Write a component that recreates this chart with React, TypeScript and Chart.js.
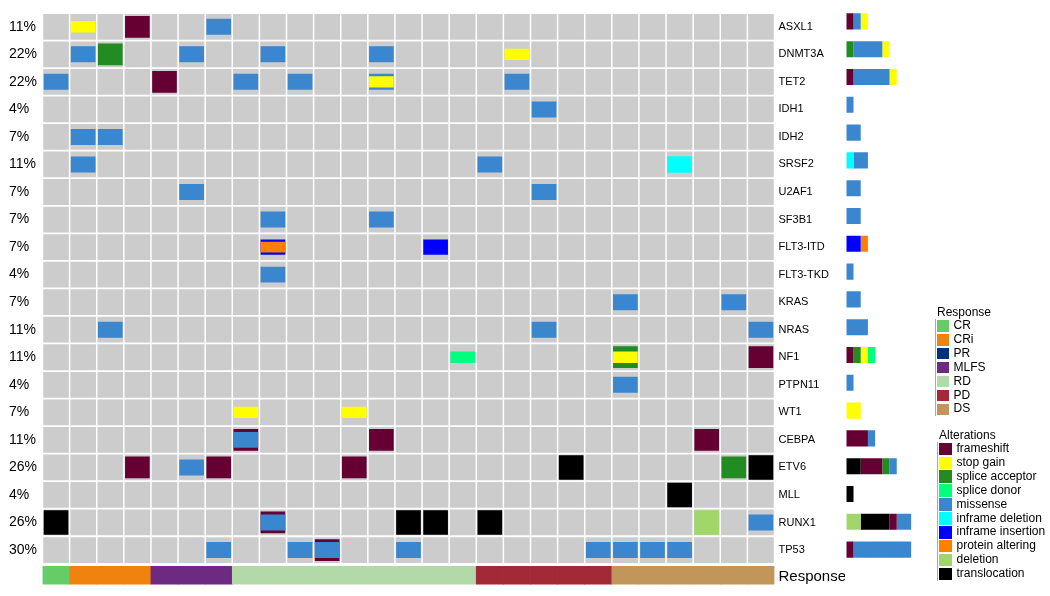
import React, { useEffect, useRef } from 'react';
import { Chart, registerables } from 'chart.js';

Chart.register(...registerables);

// ---------------- DATA ----------------
const SAMPLES = [
  'P01', 'P02', 'P03', 'P04', 'P05', 'P06', 'P07', 'P08', 'P09', 'P10',
  'P11', 'P12', 'P13', 'P14', 'P15', 'P16', 'P17', 'P18', 'P19', 'P20',
  'P21', 'P22', 'P23', 'P24', 'P25', 'P26', 'P27',
];

const GENES = [
  'ASXL1', 'DNMT3A', 'TET2', 'IDH1', 'IDH2', 'SRSF2', 'U2AF1', 'SF3B1', 'FLT3-ITD', 'FLT3-TKD',
  'KRAS', 'NRAS', 'NF1', 'PTPN11', 'WT1', 'CEBPA', 'ETV6', 'MLL', 'RUNX1', 'TP53',
];

const FREQUENCY = [
  '11%', '22%', '22%', '4%', '7%', '11%', '7%', '7%', '7%', '4%',
  '7%', '11%', '11%', '4%', '7%', '11%', '26%', '4%', '26%', '30%',
];

const RESPONSE = [
  'CR', 'CRi', 'CRi', 'CRi', 'MLFS', 'MLFS', 'MLFS',
  'RD', 'RD', 'RD', 'RD', 'RD', 'RD', 'RD', 'RD', 'RD',
  'PD', 'PD', 'PD', 'PD', 'PD',
  'DS', 'DS', 'DS', 'DS', 'DS', 'DS',
];

const RESPONSE_LEVELS = ['CR', 'CRi', 'PR', 'MLFS', 'RD', 'PD', 'DS'];

// Alterations in the grid: [gene, sample number]
const FRAMESHIFT: [string, number][] = [
  ['ASXL1', 4], ['TET2', 5], ['NF1', 27], ['CEBPA', 8], ['CEBPA', 13], ['CEBPA', 25],
  ['ETV6', 4], ['ETV6', 7], ['ETV6', 12], ['RUNX1', 9], ['TP53', 11],
];
const STOP_GAIN: [string, number][] = [
  ['ASXL1', 2], ['DNMT3A', 18], ['TET2', 13], ['NF1', 22], ['WT1', 8], ['WT1', 12],
];
const SPLICE_ACCEPTOR: [string, number][] = [['DNMT3A', 3], ['NF1', 22], ['ETV6', 26]];
const SPLICE_DONOR: [string, number][] = [['NF1', 16]];
const MISSENSE: [string, number][] = [
  ['ASXL1', 7],
  ['DNMT3A', 2], ['DNMT3A', 6], ['DNMT3A', 9], ['DNMT3A', 13],
  ['TET2', 1], ['TET2', 8], ['TET2', 10], ['TET2', 13], ['TET2', 18],
  ['IDH1', 19], ['IDH2', 2], ['IDH2', 3], ['SRSF2', 2], ['SRSF2', 17],
  ['U2AF1', 6], ['U2AF1', 19], ['SF3B1', 9], ['SF3B1', 13], ['FLT3-TKD', 9],
  ['KRAS', 22], ['KRAS', 26], ['NRAS', 3], ['NRAS', 19], ['NRAS', 27],
  ['PTPN11', 22], ['CEBPA', 8], ['ETV6', 6], ['RUNX1', 9], ['RUNX1', 27],
  ['TP53', 7], ['TP53', 10], ['TP53', 11], ['TP53', 14], ['TP53', 21], ['TP53', 22], ['TP53', 23], ['TP53', 24],
];
const INFRAME_DELETION: [string, number][] = [['SRSF2', 24]];
const INFRAME_INSERTION: [string, number][] = [['FLT3-ITD', 9], ['FLT3-ITD', 15]];
const PROTEIN_ALTERING: [string, number][] = [['FLT3-ITD', 9]];
const DELETION: [string, number][] = [['RUNX1', 25]];
const TRANSLOCATION: [string, number][] = [
  ['ETV6', 20], ['ETV6', 27], ['MLL', 24], ['RUNX1', 1], ['RUNX1', 14], ['RUNX1', 15], ['RUNX1', 17],
];

// Summary bar counts per gene (same order as GENES)
const BAR_DELETION = [0, 0, 0, 0, 0, 0, 0, 0, 0, 0, 0, 0, 0, 0, 0, 0, 0, 0, 2, 0];
const BAR_TRANSLOCATION = [0, 0, 0, 0, 0, 0, 0, 0, 0, 0, 0, 0, 0, 0, 0, 0, 2, 1, 4, 0];
const BAR_INFRAME_DELETION = [0, 0, 0, 0, 0, 1, 0, 0, 0, 0, 0, 0, 0, 0, 0, 0, 0, 0, 0, 0];
const BAR_INFRAME_INSERTION = [0, 0, 0, 0, 0, 0, 0, 0, 2, 0, 0, 0, 0, 0, 0, 0, 0, 0, 0, 0];
const BAR_FRAMESHIFT = [1, 0, 1, 0, 0, 0, 0, 0, 0, 0, 0, 0, 1, 0, 0, 3, 3, 0, 1, 1];
const BAR_SPLICE_ACCEPTOR = [0, 1, 0, 0, 0, 0, 0, 0, 0, 0, 0, 0, 1, 0, 0, 0, 1, 0, 0, 0];
const BAR_MISSENSE = [1, 4, 5, 1, 2, 2, 2, 2, 0, 1, 2, 3, 0, 1, 0, 1, 1, 0, 2, 8];
const BAR_STOP_GAIN = [1, 1, 1, 0, 0, 0, 0, 0, 0, 0, 0, 0, 1, 0, 2, 0, 0, 0, 0, 0];
const BAR_SPLICE_DONOR = [0, 0, 0, 0, 0, 0, 0, 0, 0, 0, 0, 0, 1, 0, 0, 0, 0, 0, 0, 0];
const BAR_PROTEIN_ALTERING = [0, 0, 0, 0, 0, 0, 0, 0, 1, 0, 0, 0, 0, 0, 0, 0, 0, 0, 0, 0];

// ---------------- STYLES ----------------
const COLORS: Record<string, string> = {
  frameshift: '#660033',
  'stop gain': '#ffff00',
  'splice acceptor': '#228b22',
  'splice donor': '#00ff7f',
  missense: '#3a87cf',
  'inframe deletion': '#00ffff',
  'inframe insertion': '#0000ff',
  'protein altering': '#ff8000',
  deletion: '#a1d76a',
  translocation: '#000000',
};
const RESPONSE_COLORS: Record<string, string> = {
  CR: '#66cc66',
  CRi: '#f0820e',
  PR: '#00307f',
  MLFS: '#6e2a80',
  RD: '#b4d9a8',
  PD: '#a22a36',
  DS: '#c2965a',
};
const LEGEND_ORDER = [
  'frameshift', 'stop gain', 'splice acceptor', 'splice donor', 'missense',
  'inframe deletion', 'inframe insertion', 'protein altering', 'deletion', 'translocation',
];

const FONT = '"Liberation Sans", Arial, Helvetica, sans-serif';
const Y_MAX = 20.77;
const RESP_LO = 20.09;
const RESP_HI = 20.74;

function cellDataset(label: string, entries: [string, number][], height: number, order: number) {
  return {
    label,
    data: entries.map(([g, s]) => {
      const r = GENES.indexOf(g);
      return { x: SAMPLES[s - 1], y: [r + 0.5 - height / 2, r + 0.5 + height / 2] };
    }),
    backgroundColor: COLORS[label],
    borderWidth: 0,
    barPercentage: 0.91,
    categoryPercentage: 1,
    grouped: false,
    order,
  };
}

function OncoGrid() {
  const ref = useRef<HTMLCanvasElement>(null);
  useEffect(() => {
    const bg: any[] = [];
    GENES.forEach((_, r) => {
      SAMPLES.forEach((s) => bg.push({ x: s, y: [r + 0.032, r + 0.968] }));
    });
    const chart = new Chart(ref.current!, {
      type: 'bar',
      data: {
        labels: SAMPLES,
        datasets: [
          {
            label: 'none',
            data: bg,
            backgroundColor: '#cccccc',
            borderWidth: 0,
            barPercentage: 0.945,
            categoryPercentage: 1,
            grouped: false,
            order: 10,
          } as any,
          {
            label: 'Response',
            data: SAMPLES.map((s) => ({ x: s, y: [RESP_LO, RESP_HI] })),
            backgroundColor: RESPONSE.map((r) => RESPONSE_COLORS[r]),
            borderWidth: 0,
            barPercentage: 1,
            categoryPercentage: 1,
            grouped: false,
            order: 10,
          },
          cellDataset('translocation', TRANSLOCATION, 0.89, 4),
          cellDataset('deletion', DELETION, 0.89, 4),
          cellDataset('frameshift', FRAMESHIFT, 0.79, 3),
          cellDataset('splice acceptor', SPLICE_ACCEPTOR, 0.79, 3),
          cellDataset('missense', MISSENSE, 0.58, 2),
          cellDataset('inframe deletion', INFRAME_DELETION, 0.6, 2),
          cellDataset('inframe insertion', INFRAME_INSERTION, 0.56, 2),
          cellDataset('stop gain', STOP_GAIN, 0.41, 1),
          cellDataset('splice donor', SPLICE_DONOR, 0.41, 1),
          cellDataset('protein altering', PROTEIN_ALTERING, 0.39, 1),
        ] as any,
      },
      options: {
        animation: false,
        responsive: false,
        events: [],
        layout: { padding: { left: 9, top: 7.5, bottom: 11, right: 0 } },
        plugins: { legend: { display: false }, tooltip: { enabled: false } },
        scales: {
          x: { type: 'category', display: false },
          y: {
            type: 'linear',
            position: 'left',
            min: 0,
            max: Y_MAX,
            reverse: true,
            grid: { display: false, drawTicks: false },
            border: { display: false },
            afterBuildTicks: (scale: any) => {
              scale.ticks = GENES.map((_, i) => ({ value: i + 0.5 }));
            },
            afterFit: (scale: any) => {
              scale.width = 33.5;
            },
            ticks: {
              autoSkip: false,
              crossAlign: 'far',
              padding: 0,
              color: '#000',
              font: { family: FONT, size: 14 },
              callback: (_v: any, i: number) => FREQUENCY[i],
            },
          } as any,
          y2: {
            type: 'linear',
            position: 'right',
            min: 0,
            max: Y_MAX,
            reverse: true,
            grid: { display: false, drawTicks: false },
            border: { display: false },
            afterBuildTicks: (scale: any) => {
              scale.ticks = [...GENES.map((_, i) => ({ value: i + 0.5 })), { value: 20.47 }];
            },
            afterFit: (scale: any) => {
              scale.width = 70.5;
            },
            ticks: {
              autoSkip: false,
              padding: 4,
              color: '#000',
              font: (ctx: any) =>
                ctx.index === GENES.length
                  ? { family: FONT, size: 15 }
                  : { family: FONT, size: 11 },
              callback: (_v: any, i: number) => (i < GENES.length ? GENES[i] : 'Response'),
            },
          } as any,
        },
      },
    });
    return () => chart.destroy();
  }, []);
  return (
    <canvas
      ref={ref}
      width={845}
      height={596}
      style={{ position: 'absolute', left: 0, top: 0, width: 845, height: 596 }}
    />
  );
}

function SummaryBars() {
  const ref = useRef<HTMLCanvasElement>(null);
  useEffect(() => {
    const series: [string, number[]][] = [
      ['deletion', BAR_DELETION],
      ['translocation', BAR_TRANSLOCATION],
      ['inframe deletion', BAR_INFRAME_DELETION],
      ['inframe insertion', BAR_INFRAME_INSERTION],
      ['frameshift', BAR_FRAMESHIFT],
      ['splice acceptor', BAR_SPLICE_ACCEPTOR],
      ['missense', BAR_MISSENSE],
      ['stop gain', BAR_STOP_GAIN],
      ['splice donor', BAR_SPLICE_DONOR],
      ['protein altering', BAR_PROTEIN_ALTERING],
    ];
    const chart = new Chart(ref.current!, {
      type: 'bar',
      data: {
        labels: GENES,
        datasets: series.map(([label, values]) => ({
          label,
          data: values,
          backgroundColor: COLORS[label],
          borderWidth: 0,
          barPercentage: 0.58,
          categoryPercentage: 1,
        })),
      },
      options: {
        animation: false,
        responsive: false,
        events: [],
        indexAxis: 'y',
        layout: { padding: { left: 6.3, right: 7.2, top: 7.5, bottom: 32.5 } },
        plugins: { legend: { display: false }, tooltip: { enabled: false } },
        scales: {
          x: { type: 'linear', min: 0, max: 12, stacked: true, display: false },
          y: { type: 'category', stacked: true, display: false },
        },
      },
    });
    return () => chart.destroy();
  }, []);
  return (
    <canvas
      ref={ref}
      width={100}
      height={596}
      style={{ position: 'absolute', left: 840, top: 0, width: 100, height: 596 }}
    />
  );
}

function LegendBlock(props: {
  title: string;
  items: string[];
  colors: Record<string, string>;
  top: number;
  left: number;
  pitch: number;
  box: number;
}) {
  const { title, items, colors, top, left, pitch, box } = props;
  return (
    <div style={{ position: 'absolute', left, top, fontFamily: FONT, color: '#000' }}>
      <div style={{ position: 'absolute', left: 2, top: -14, fontSize: 12, lineHeight: '14px', whiteSpace: 'nowrap' }}>
        {title}
      </div>
      <div
        style={{
          position: 'absolute',
          left: 0,
          top: 0,
          width: 1,
          height: items.length * pitch,
          background: '#aaaaaa',
        }}
      />
      {items.map((it, i) => (
        <div key={it} style={{ position: 'absolute', left: 2, top: i * pitch, height: pitch, whiteSpace: 'nowrap' }}>
          <div
            style={{
              position: 'absolute',
              left: 0,
              top: (pitch - box) / 2,
              width: box,
              height: box,
              background: colors[it],
            }}
          />
          <div
            style={{
              position: 'absolute',
              left: box + 5,
              top: 0,
              fontSize: 12,
              lineHeight: `${pitch}px`,
            }}
          >
            {it}
          </div>
        </div>
      ))}
    </div>
  );
}

export default function App() {
  return (
    <div style={{ position: 'absolute', left: 0, top: 0, width: 1050, height: 596, background: '#fff', overflow: 'hidden' }}>
      <OncoGrid />
      <SummaryBars />
      <LegendBlock
        title="Response"
        items={RESPONSE_LEVELS}
        colors={RESPONSE_COLORS}
        left={935}
        top={319}
        pitch={13.9}
        box={11.5}
      />
      <LegendBlock
        title="Alterations"
        items={LEGEND_ORDER}
        colors={COLORS}
        left={937}
        top={442}
        pitch={13.9}
        box={12.5}
      />
    </div>
  );
}
